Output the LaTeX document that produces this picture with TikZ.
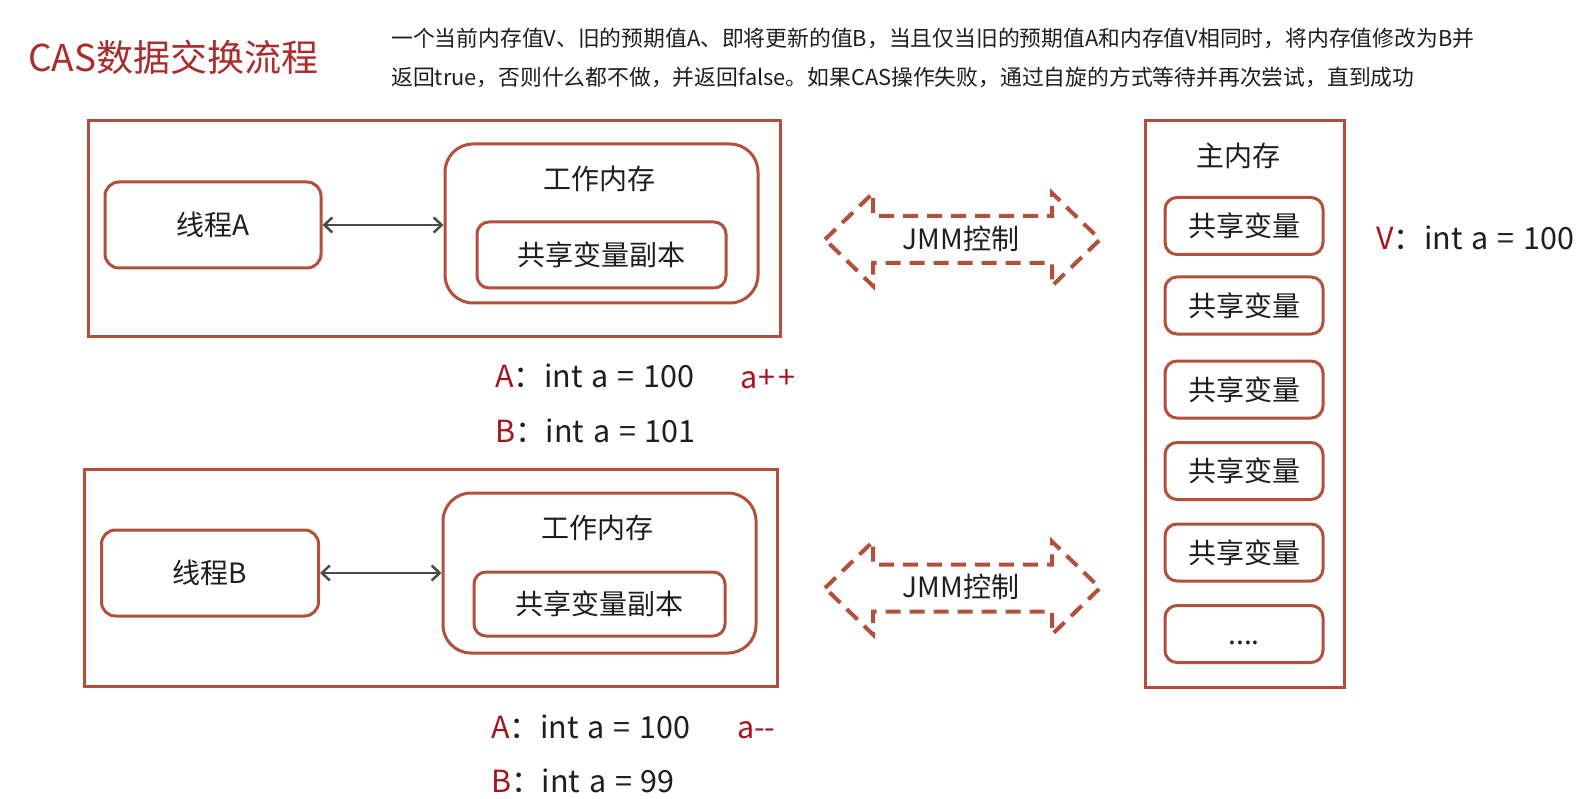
\documentclass[tikz,border=0pt]{standalone}
\usepackage{fontspec}
\setmainfont{Noto Sans CJK SC}
\newfontfamily\widesp[WordSpace=1.3]{Noto Sans CJK SC}
\usetikzlibrary{arrows.meta}
\definecolor{boxred}{RGB}{178,80,60}
\definecolor{txtred}{RGB}{165,20,30}
\definecolor{ttlred}{RGB}{170,45,45}
\definecolor{txt}{RGB}{30,30,30}
\definecolor{arrgray}{RGB}{75,75,75}
\tikzset{
  frame/.style={draw=boxred, line width=3pt, inner sep=0pt},
  rbox/.style={frame, rounded corners=14pt},
  wbox/.style={frame, rounded corners=28pt},
  lbl/.style={font=\fontsize{28}{30}\selectfont, text=txt},
  big/.style={font=\widesp\fontsize{30.5}{34}\selectfont, text=txt, inner sep=0pt, anchor=base west},
  desc/.style={font=\fontsize{21.8}{24}\selectfont, text=txt, inner sep=0pt, anchor=base west},
  jmm/.style={draw=boxred, line width=4pt, dash pattern=on 15pt off 9pt},
  link/.style={draw=arrgray, line width=2.5pt, {Straight Barb[length=8pt,width=15pt]}-{Straight Barb[length=8pt,width=15pt]}}
}
\begin{document}
\begin{tikzpicture}[x=1pt,y=-1pt]
\useasboundingbox[fill=white] (0,0) rectangle (1578,799);

% title and description
\node[font=\fontsize{37}{40}\selectfont, text=ttlred, inner sep=0pt, anchor=base west] (title) at (28,72) {CAS数据交换流程};
\node[desc] (d1) at (391,47) {一个当前内存值V、旧的预期值A、即将更新的值B，当且仅当旧的预期值A和内存值V相同时，将内存值修改为B并};
\node[desc] (d2) at (391,86) {返回true，否则什么都不做，并返回false。如果CAS操作失败，通过自旋的方式等待并再次尝试，直到成功};

% thread A
\node[frame, minimum width=692pt, minimum height=215pt] (oA) at (434,228.5) {};
\node[rbox, lbl, minimum width=216pt, minimum height=86pt] (tA) at (213,225) {线程A};
\node[wbox, minimum width=313pt, minimum height=159pt] (wA) at (601.5,223.5) {};
\node[lbl] (wlA) at (599,179) {工作内存};
\node[rbox, lbl, rounded corners=12pt, minimum width=249pt, minimum height=66pt] (cA) at (601.5,255) {共享变量副本};
\draw[link] (tA.east) -- (tA.east -| wA.west);

% thread B
\node[frame, minimum width=692.5pt, minimum height=217pt] (oB) at (430.75,577.5) {};
\node[rbox, lbl, minimum width=217pt, minimum height=86pt] (tB) at (210,573) {线程B};
\node[wbox, minimum width=313pt, minimum height=160pt] (wB) at (599.5,573) {};
\node[lbl] (wlB) at (597,528) {工作内存};
\node[rbox, lbl, rounded corners=12pt, minimum width=251pt, minimum height=64pt] (cB) at (599.5,604) {共享变量副本};
\draw[link] (tB.east) -- (tB.east -| wB.west);

% JMM arrows
\foreach \cy/\nm in {239.5/jA, 588/jB}{
  \draw[jmm] (825,\cy) -- (873,\cy-46.5) -- (873,\cy-23.5) -- (1052,\cy-23.5) -- (1052,\cy-46.5)
    -- (1100,\cy) -- (1052,\cy+46.5) -- (1052,\cy+23.5) -- (873,\cy+23.5) -- (873,\cy+46.5) -- cycle;
  \node[lbl] (\nm) at (961,\cy-1) {JMM控制};
}

% main memory
\node[frame, minimum width=199pt, minimum height=566pt] (mm) at (1244.5,404) {};
\node[lbl] (mml) at (1238,156) {主内存};
\foreach \yy/\nm in {226/s1, 305.5/s2, 389.5/s3, 471/s4, 552.5/s5}{
  \node[rbox, lbl, rounded corners=12pt, minimum width=158pt, minimum height=57pt] (\nm) at (1244,\yy) {共享变量};
}
\node[rbox, lbl, rounded corners=12pt, minimum width=158pt, minimum height=57pt] (s6) at (1244,634) {\vphantom{共}....};

% values
\node[big] (vV) at (1376,250) {\textcolor{txtred}{V}：int a = 100};
\node[big] (aA) at (495,387) {\textcolor{txtred}{A}：int a = 100};
\node[big, text=txtred] (inc) at (740,388) {a\kern1.5pt+\kern2.5pt+};
\node[big] (bA) at (495,442) {\textcolor{txtred}{B}：int a = 101};
\node[big] (aB) at (491,738) {\textcolor{txtred}{A}：int a = 100};
\node[big, text=txtred] (dec) at (737,738) {a-{}-};
\node[big] (bB) at (491,792) {\textcolor{txtred}{B}：int a = 99};
\end{tikzpicture}
\end{document}
